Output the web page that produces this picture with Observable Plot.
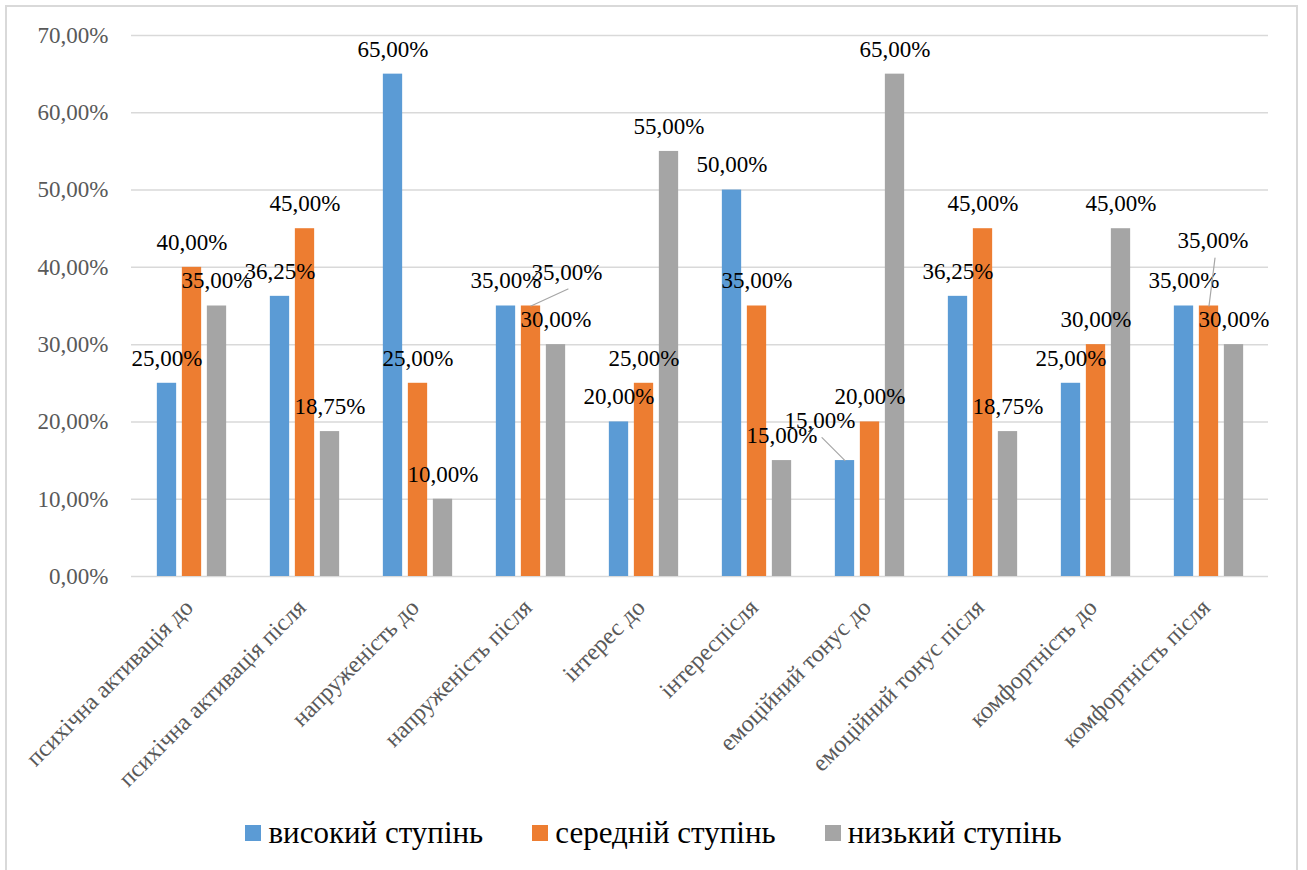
<!DOCTYPE html>
<html>
<head>
<meta charset="utf-8">
<script src="https://cdn.jsdelivr.net/npm/d3@7"></script>
<script src="https://cdn.jsdelivr.net/npm/@observablehq/plot@0.6"></script>
<style>
  body { margin: 0; background: #fff; font-family: "Liberation Serif", "DejaVu Serif", serif; }
  #frame { position: absolute; left: 5px; top: 5px; width: 1293px; height: 890px; border: 2px solid #d9d9d9; box-sizing: border-box; }
  #chart { position: absolute; left: 0; top: 0; }
  #legend { position: absolute; left: 0; top: 815px; width: 1307px; display: flex; justify-content: center; align-items: center; gap: 49px; font-size: 31px; color: #000; }
  .item { display: flex; align-items: center; gap: 7px; }
  .sw { width: 16px; height: 16px; display: inline-block; }
</style>
</head>
<body>
<div id="frame"></div>
<div id="chart"></div>
<div id="legend"></div>
<script>
const categories = [
  "психічна активація до",
  "психічна активація після",
  "напруженість до",
  "напруженість після",
  "інтерес до",
  "інтереспісля",
  "емоційний тонус до",
  "емоційний тонус після",
  "комфортність до",
  "комфортність після"
];
const seriesNames = ["високий ступінь", "середній ступінь", "низький ступінь"];
const highValues   = [25, 36.25, 65, 35, 20, 50, 15, 36.25, 25, 35];
const mediumValues = [40, 45, 25, 35, 25, 35, 20, 45, 30, 35];
const lowValues    = [35, 18.75, 10, 30, 55, 15, 65, 18.75, 45, 30];
const yTicks = [0, 10, 20, 30, 40, 50, 60, 70];
const seriesColors = ["#5B9BD5", "#ED7D31", "#A5A5A5"];

// layout only: labels that were moved aside with a leader line (pixel nudges)
const movedLabels = [
  {ci: 3, si: 1, dx: 36, dy: -8,  lineDx: 37,  lineDy: -17},
  {ci: 6, si: 0, dx: -25, dy: -15, lineDx: -23, lineDy: -23},
  {ci: 9, si: 1, dx: 4,  dy: -40, lineDx: 6,   lineDy: -48}
];

const valueSets = [highValues, mediumValues, lowValues];
const data = seriesNames.flatMap((s, si) =>
  categories.map((c, ci) => ({category: c, series: s, si, ci, value: valueSets[si][ci]})));

const fmt = v => v.toFixed(2).replace(".", ",") + "%";
const FONT = "'Liberation Serif', 'DejaVu Serif', serif";

const W = 1307, H = 800;
const mL = 131, mR = 39, mT = 35, mB = 224;
const step = (W - mL - mR) / categories.length;
const barW = 20, gap = 5;
const inset = (step - barW) / 2;
const offsets = [-(barW + gap), 0, barW + gap];
const labelDy = -25;

const isMoved = r => movedLabels.some(m => m.ci === r.ci && m.si === r.si);

const marks = [
  Plot.ruleY(yTicks, {y: d => d, stroke: "#d9d9d9", strokeWidth: 1.5}),
  Plot.axisY({ticks: yTicks, tickFormat: fmt, tickSize: 0, tickPadding: 23, fontSize: 23, color: "#595959", label: null, fontFamily: FONT}),
  Plot.axisX({tickRotate: -45, tickSize: 0, tickPadding: 27, dx: -3, fontSize: 24, color: "#595959", label: null, fontFamily: FONT})
];
seriesNames.forEach((s, si) => {
  const d = data.filter(r => r.si === si);
  marks.push(Plot.barY(d, {x: "category", y: "value", fill: "series", dx: offsets[si], insetLeft: inset, insetRight: inset}));
});
seriesNames.forEach((s, si) => {
  const d = data.filter(r => r.si === si && !isMoved(r));
  marks.push(Plot.text(d, {x: "category", y: "value", text: r => fmt(r.value), dx: offsets[si], dy: labelDy, fontSize: 23, fill: "#000", lineAnchor: "middle", fontFamily: FONT}));
});
movedLabels.forEach(m => {
  const d = data.filter(r => r.ci === m.ci && r.si === m.si);
  const len = Math.hypot(m.lineDx, m.lineDy);
  const ang = Math.atan2(m.lineDx, -m.lineDy) * 180 / Math.PI;
  marks.push(Plot.vector(d, {
    x: "category", y: "value", dx: offsets[m.si], length: len, rotate: ang, anchor: "start",
    stroke: "#a6a6a6", strokeWidth: 1.2,
    shape: {draw(ctx, l) { ctx.moveTo(0, 0); ctx.lineTo(0, -l); }}
  }));
  marks.push(Plot.text(d, {x: "category", y: "value", text: r => fmt(r.value), dx: offsets[m.si] + m.dx, dy: labelDy + m.dy, fontSize: 23, fill: "#000", lineAnchor: "middle", fontFamily: FONT}));
});

const chart = Plot.plot({
  width: W, height: H,
  marginLeft: mL, marginRight: mR, marginTop: mT, marginBottom: mB,
  style: {fontFamily: FONT, background: "transparent", overflow: "visible"},
  x: {domain: categories, padding: 0, label: null},
  y: {domain: [0, 70], label: null},
  length: {type: "identity"},
  color: {domain: seriesNames, range: seriesColors},
  marks
});
document.getElementById("chart").appendChild(chart);

const legend = document.getElementById("legend");
seriesNames.forEach((s, i) => {
  const item = document.createElement("div");
  item.className = "item";
  const sw = document.createElement("span");
  sw.className = "sw";
  sw.style.background = seriesColors[i];
  const t = document.createElement("span");
  t.textContent = s;
  item.appendChild(sw);
  item.appendChild(t);
  legend.appendChild(item);
});
</script>
</body>
</html>
